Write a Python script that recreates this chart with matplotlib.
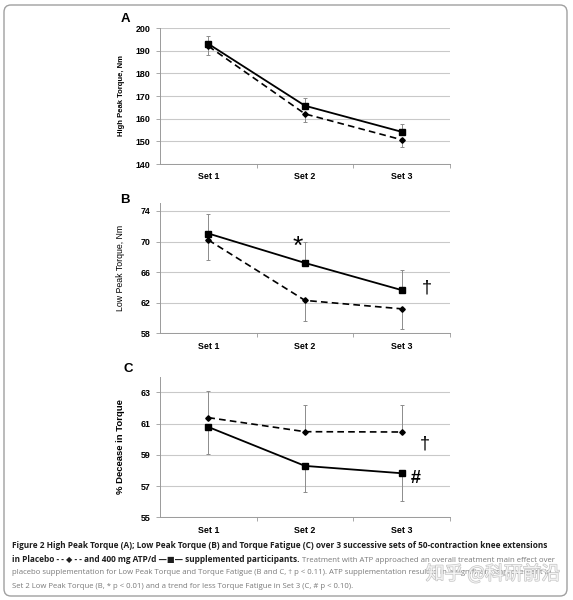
import matplotlib
matplotlib.use('Agg')
import matplotlib.pyplot as plt
import matplotlib.patheffects as pe
from matplotlib.patches import FancyBboxPatch

sets = ['Set 1', 'Set 2', 'Set 3']

# A - high peak torque, Nm
high_atp = [193.0, 165.7, 154.2]
high_atp_err = [3.3, 3.6, 3.5]
high_pla = [192.0, 162.1, 150.7]
high_pla_err = [3.7, 3.4, 3.4]

# B - low peak torque, Nm
low_atp = [71.05, 67.2, 63.65]
low_atp_err = [2.6, 2.75, 2.65]
low_pla = [70.2, 62.3, 61.2]
low_pla_err = [2.65, 2.7, 2.7]

# C - % decrease in torque
fat_atp = [60.78, 58.29, 57.82]
fat_atp_err = [1.75, 1.7, 1.75]
fat_pla = [61.38, 60.48, 60.46]
fat_pla_err = [1.72, 1.71, 1.73]

W, H = 573, 600
fig = plt.figure(figsize=(W / 100, H / 100), dpi=100)
plt.rcParams['font.family'] = ['Liberation Sans', 'DejaVu Sans']

GRID = '#c9c9c9'
AXC = '#9a9a9a'


def px_axes(left, right, top, bottom):
    return fig.add_axes([left / W, 1 - bottom / H, (right - left) / W, (bottom - top) / H])


def panel(ax, atp, atp_err, pla, pla_err, atp_up, ylim, yticks, ylabel, lab_size, lab_weight):
    x = range(len(sets))
    zeros = [0] * len(sets)
    if atp_up:
        ae, pe_ = [zeros, atp_err], [pla_err, zeros]
    else:
        ae, pe_ = [atp_err, zeros], [zeros, pla_err]
    ax.errorbar(x, atp, yerr=ae, fmt='none', ecolor='#8c8c8c', elinewidth=0.7, capsize=1.5, capthick=0.7, zorder=2)
    ax.errorbar(x, pla, yerr=pe_, fmt='none', ecolor='#8c8c8c', elinewidth=0.7, capsize=1.5, capthick=0.7, zorder=2)
    ax.plot(x, pla, color='black', lw=1.2, ls=(0, (4, 2.5)), marker='D', ms=2.8, zorder=3)
    ax.plot(x, atp, color='black', lw=1.3, marker='s', ms=4.5, zorder=4)
    ax.set_xlim(-0.5, 2.5)
    ax.set_ylim(*ylim)
    ax.set_yticks(yticks)
    ax.set_xticks(list(x))
    ax.set_xticklabels(sets, fontsize=6.4, fontweight='bold')
    ax.set_xticks([0.5, 1.5, 2.5], minor=True)
    ax.tick_params(axis='x', which='major', length=0, pad=6)
    ax.tick_params(axis='x', which='minor', length=3, color=AXC, width=0.6)
    ax.tick_params(axis='y', length=3, color=AXC, width=0.6, labelsize=6.4, pad=4)
    for t in ax.get_yticklabels():
        t.set_fontweight('bold')
    ax.grid(axis='y', color=GRID, lw=0.8)
    ax.set_axisbelow(True)
    for s in ['top', 'right']:
        ax.spines[s].set_visible(False)
    for s in ['left', 'bottom']:
        ax.spines[s].set_color(AXC)
        ax.spines[s].set_linewidth(0.7)
    ax.set_ylabel(ylabel, fontsize=lab_size, fontweight=lab_weight)
    ax.yaxis.set_label_coords(-0.12, 0.5)


axA = px_axes(160, 450, 28, 164)
panel(axA, high_atp, high_atp_err, high_pla, high_pla_err, True,
      (140, 200), [140, 150, 160, 170, 180, 190, 200], 'High Peak Torque, Nm', 5.5, 'bold')

axB = px_axes(160, 450, 203.3, 333.3)
panel(axB, low_atp, low_atp_err, low_pla, low_pla_err, True,
      (58, 75), [58, 62, 66, 70, 74], 'Low Peak Torque, Nm', 6.3, 'normal')
axB.text(0.92, 69.3, '*', fontsize=19, ha='center', va='center')
axB.text(2.26, 63.9, '\u2020', fontsize=13, ha='center', va='center')

axC = px_axes(160, 450, 376.7, 517.3)
panel(axC, fat_atp, fat_atp_err, fat_pla, fat_pla_err, False,
      (55, 64), [55, 57, 59, 61, 63], '% Decease in Torque', 6.8, 'bold')
axC.text(2.24, 59.7, '\u2020', fontsize=13, ha='center', va='center')
axC.text(2.14, 57.5, '#', fontsize=13, fontweight='bold', ha='center', va='center')

for lab, px, py in [('A', 125, 19), ('B', 125, 200), ('C', 128, 369)]:
    fig.text(px / W, 1 - py / H, lab, fontsize=9.5, fontweight='bold', ha='center', va='center')

# caption
CAP = ['Open Sans', 'DejaVu Sans']
cs = 5.95
cr = 5.55
dark = '#1e1e1e'
grey = '#7a7a7a'
x0 = 12 / W
fig.text(x0, 1 - 546 / H,
         'Figure 2 High Peak Torque (A); Low Peak Torque (B) and Torque Fatigue (C) over 3 successive sets of 50-contraction knee extensions',
         fontsize=cs, fontweight='bold', color=dark, family=CAP, va='center')
t2 = fig.text(x0, 1 - 560 / H,
              'in Placebo - - \u25c6 - - and 400 mg ATP/d \u2014\u25a0\u2014 supplemented participants.',
              fontsize=cs, fontweight='bold', color=dark, family=CAP, va='center')
fig.add_artist(plt.Annotation(' Treatment with ATP approached an overall treatment main effect over',
                              xy=(1, 0.5), xycoords=t2, va='center', ha='left',
                              fontsize=cr, color=grey, family=CAP))
fig.text(x0, 1 - 573 / H,
         'placebo supplementation for Low Peak Torque and Torque Fatigue (B and C, \u2020 p < 0.11). ATP supplementation resulted in a significant improvement in',
         fontsize=cr, color=grey, family=CAP, va='center')
fig.text(x0, 1 - 586 / H,
         'Set 2 Low Peak Torque (B, * p < 0.01) and a trend for less Torque Fatigue in Set 3 (C, # p < 0.10).',
         fontsize=cr, color=grey, family=CAP, va='center')

# watermark
fig.text(493 / W, 1 - 574 / H, '\u77e5\u4e4e @\u79d1\u7814\u524d\u6cbf', fontsize=13.5,
         family=['Noto Sans CJK SC', 'DejaVu Sans'], color='white', alpha=0.8, ha='center', va='center',
         path_effects=[pe.withStroke(linewidth=1.0, foreground='#b8b8b8')])

fig.add_artist(FancyBboxPatch((4 / W, 4 / H), 563 / W, 591 / H,
                              boxstyle='round,pad=0,rounding_size=0.012',
                              transform=fig.transFigure, fill=False, ec='#a0a0a0', lw=1.0))

fig.savefig('out.png', dpi=100)
